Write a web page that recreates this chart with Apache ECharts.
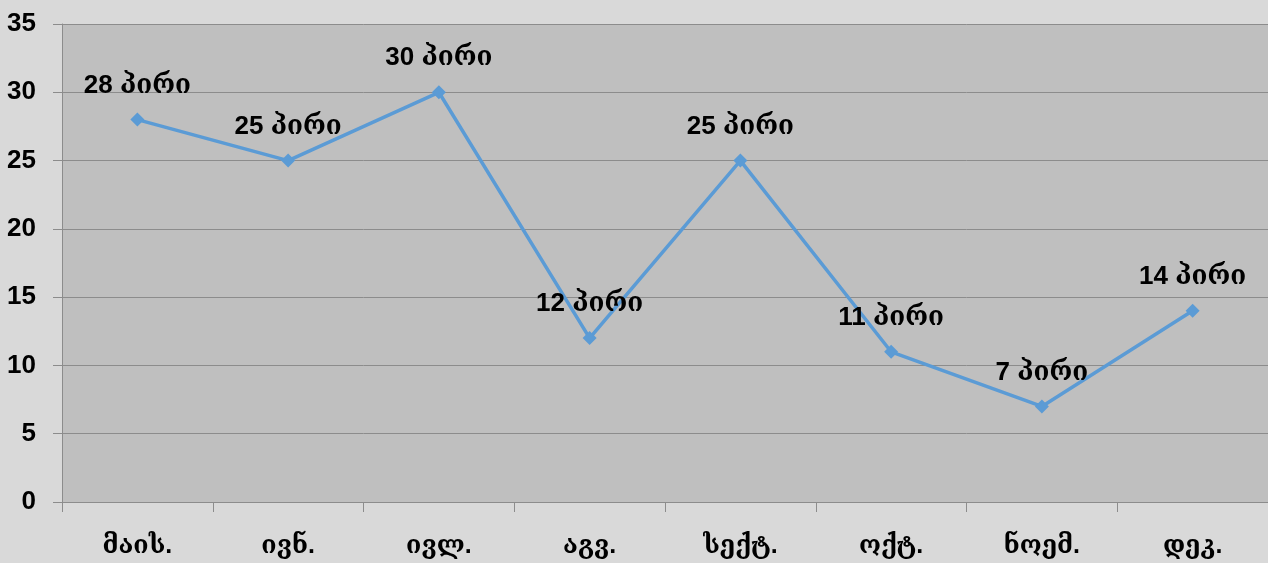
<!DOCTYPE html>
<html><head><meta charset="utf-8">
<script src="https://cdn.jsdelivr.net/npm/echarts@6/dist/echarts.min.js"></script>
<style>html,body{margin:0;padding:0;background:#d9d9d9}#c{width:1268px;height:563px}</style>
</head><body><div id="c"></div>
<script>
const categories = ['მაის.', 'ივნ.', 'ივლ.', 'აგვ.', 'სექტ.', 'ოქტ.', 'ნოემ.', 'დეკ.'];
const values = [28, 25, 30, 12, 25, 11, 7, 14];
const unit = 'პირი';
const yTicks = [0, 5, 10, 15, 20, 25, 30, 35];
const font = '"Liberation Sans Narrow", "Liberation Sans", "DejaVu Serif", serif';
const chart = echarts.init(document.getElementById('c'));
chart.setOption({
  backgroundColor: '#d9d9d9',
  animation: false,
  grid: { left: 62, right: -2, top: 24, bottom: 61, show: true, backgroundColor: '#bfbfbf', borderWidth: 0 },
  xAxis: {
    type: 'category', data: categories, boundaryGap: true,
    axisLine: { lineStyle: { color: '#8c8c8c', width: 1 } },
    axisTick: { show: true, length: 10, lineStyle: { color: '#8c8c8c' } },
    axisLabel: { color: '#000', fontSize: 25, fontWeight: 'bold', fontFamily: font, margin: 32 }
  },
  yAxis: {
    type: 'value', min: yTicks[0], max: yTicks[yTicks.length - 1], interval: 5,
    axisLine: { show: true, lineStyle: { color: '#8c8c8c', width: 1 } },
    axisTick: { show: true, length: 9, lineStyle: { color: '#8c8c8c' } },
    splitLine: { lineStyle: { color: '#8c8c8c', width: 1 } },
    axisLabel: { color: '#000', fontSize: 26, fontWeight: 'bold', fontFamily: font, margin: 26 }
  },
  series: [{
    type: 'line', data: values,
    symbol: 'diamond', symbolSize: 14,
    lineStyle: { color: '#5b9bd5', width: 3.5 },
    itemStyle: { color: '#5b9bd5' },
    label: { show: true, position: 'top', distance: 14, color: '#000', fontSize: 26, fontWeight: 'bold', fontFamily: font,
      formatter: p => p.value + ' ' + unit }
  }]
});
</script></body></html>
